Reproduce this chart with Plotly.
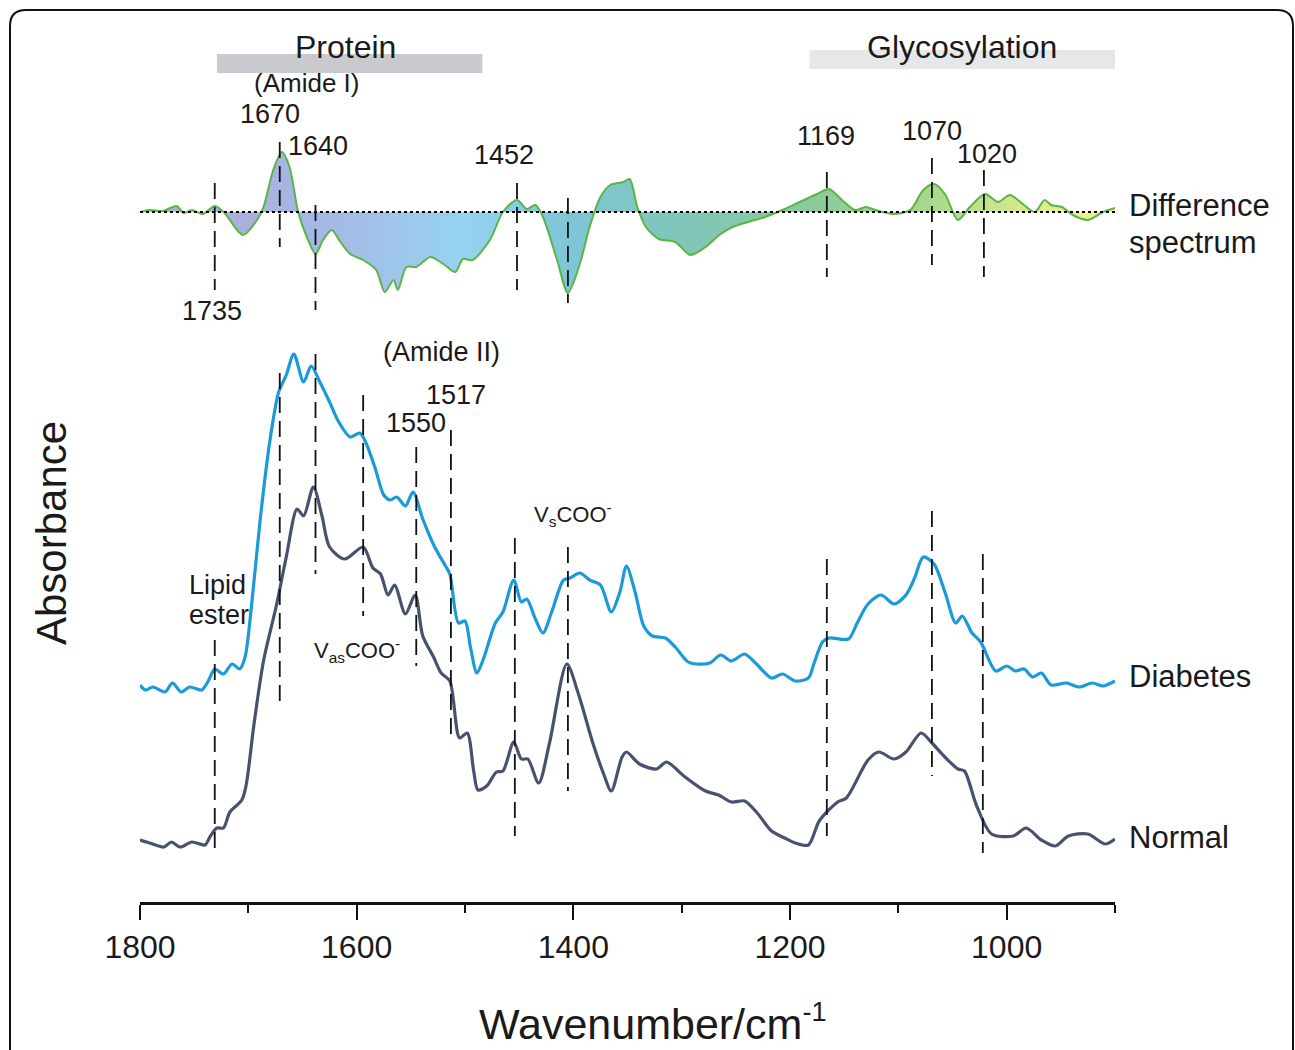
import plotly.graph_objects as go

# ---------------- data ----------------
# Difference spectrum (relative to its own zero line)
diff_wn = [1800, 1791, 1779, 1766, 1760, 1752, 1742, 1731, 1722, 1705, 1692, 1686, 1677, 1669, 1662,
           1654, 1646, 1638, 1631, 1623, 1615, 1606, 1594, 1582, 1574, 1566, 1562, 1554, 1545, 1532,
           1520, 1509, 1502, 1493, 1477, 1465, 1452, 1443, 1435, 1428, 1415, 1405, 1394, 1385, 1375,
           1366, 1354, 1348, 1341, 1333, 1321, 1306, 1292, 1278, 1264, 1253, 1239, 1223, 1207, 1191,
           1175, 1164, 1152, 1140, 1130, 1121, 1105, 1089, 1077, 1067, 1057, 1045, 1034, 1020, 1008,
           997, 984, 974, 965, 959, 949, 939, 925, 911, 900]
diff_val = [0.00, 0.02, 0.01, 0.06, -0.01, 0.02, -0.02, 0.06, -0.01, -0.23, -0.08, 0.05, 0.42, 0.60, 0.45,
            0.00, -0.25, -0.42, -0.28, -0.18, -0.30, -0.42, -0.48, -0.58, -0.80, -0.68, -0.78, -0.55, -0.55, -0.45,
            -0.52, -0.60, -0.47, -0.48, -0.28, 0.00, 0.12, 0.03, 0.07, -0.05, -0.48, -0.81, -0.52, -0.15, 0.15,
            0.27, 0.30, 0.33, 0.05, -0.15, -0.27, -0.30, -0.43, -0.35, -0.22, -0.15, -0.10, -0.05, 0.02, 0.10,
            0.18, 0.23, 0.12, 0.02, 0.05, 0.02, -0.02, 0.02, 0.22, 0.28, 0.18, -0.08, 0.05, 0.18, 0.10,
            0.17, 0.07, 0.00, 0.12, 0.07, 0.05, -0.03, -0.08, 0.00, 0.04]
diff_offset = 6.90

# Diabetes spectrum (offset absorbance)
diab_wn = [1800, 1795, 1788, 1777, 1770, 1762, 1754, 1743, 1737, 1731, 1723, 1715, 1708, 1703, 1697,
           1689, 1680, 1672, 1665, 1658, 1649, 1642, 1634, 1625, 1617, 1606, 1597, 1591, 1583, 1575,
           1569, 1563, 1555, 1548, 1539, 1528, 1518, 1514, 1506, 1500, 1495, 1489, 1483, 1472, 1465,
           1455, 1448, 1443, 1435, 1428, 1420, 1409, 1403, 1394, 1385, 1375, 1365, 1357, 1351, 1343,
           1335, 1327, 1315, 1306, 1294, 1286, 1274, 1264, 1254, 1242, 1231, 1217, 1207, 1195, 1183,
           1178, 1170, 1164, 1146, 1138, 1128, 1116, 1104, 1093, 1085, 1077, 1067, 1057, 1047, 1041,
           1032, 1024, 1010, 1000, 992, 984, 976, 968, 959, 945, 933, 921, 911, 900]
diab_val = [2.17, 2.12, 2.15, 2.10, 2.19, 2.10, 2.15, 2.12, 2.21, 2.33, 2.28, 2.38, 2.33, 2.45, 2.97,
            3.83, 4.62, 5.10, 5.27, 5.48, 5.20, 5.36, 5.20, 5.00, 4.81, 4.65, 4.69, 4.58, 4.34, 4.07,
            4.02, 4.05, 3.96, 4.10, 3.83, 3.55, 3.36, 3.28, 2.79, 2.81, 2.55, 2.29, 2.43, 2.79, 2.90,
            3.22, 3.00, 3.03, 2.83, 2.69, 2.90, 3.22, 3.24, 3.29, 3.22, 3.17, 2.90, 3.10, 3.36, 3.10,
            2.76, 2.66, 2.64, 2.55, 2.40, 2.38, 2.39, 2.47, 2.41, 2.48, 2.38, 2.24, 2.28, 2.21, 2.24,
            2.38, 2.60, 2.64, 2.63, 2.79, 2.98, 3.07, 2.98, 3.07, 3.24, 3.45, 3.38, 3.10, 2.79, 2.86,
            2.69, 2.60, 2.31, 2.36, 2.31, 2.33, 2.25, 2.29, 2.17, 2.19, 2.15, 2.19, 2.16, 2.21]

# Normal spectrum (offset absorbance)
norm_wn = [1800, 1791, 1778, 1771, 1763, 1752, 1740, 1735, 1729, 1723, 1717, 1706, 1702, 1695, 1686,
           1674, 1665, 1655, 1649, 1640, 1632, 1625, 1611, 1594, 1585, 1578, 1571, 1565, 1555, 1546,
           1539, 1529, 1522, 1514, 1505, 1498, 1492, 1488, 1480, 1471, 1465, 1455, 1448, 1442, 1432,
           1422, 1406, 1395, 1382, 1372, 1365, 1355, 1351, 1339, 1323, 1314, 1298, 1278, 1266, 1254,
           1242, 1231, 1217, 1205, 1195, 1183, 1173, 1156, 1148, 1128, 1118, 1104, 1093, 1079, 1069,
           1057, 1045, 1039, 1028, 1014, 994, 982, 968, 955, 943, 925, 909, 900]
norm_val = [0.62, 0.59, 0.55, 0.60, 0.55, 0.60, 0.57, 0.66, 0.74, 0.74, 0.90, 1.02, 1.17, 1.76, 2.41,
            2.97, 3.45, 3.93, 3.86, 4.15, 3.86, 3.55, 3.43, 3.55, 3.34, 3.28, 3.07, 3.17, 2.88, 3.07,
            2.66, 2.45, 2.29, 2.21, 1.64, 1.69, 1.31, 1.12, 1.16, 1.30, 1.31, 1.60, 1.43, 1.43, 1.19,
            1.59, 2.38, 2.07, 1.59, 1.28, 1.11, 1.45, 1.50, 1.38, 1.33, 1.40, 1.26, 1.11, 1.07, 1.00,
            1.01, 0.90, 0.71, 0.64, 0.59, 0.57, 0.81, 1.00, 1.04, 1.42, 1.50, 1.43, 1.50, 1.69, 1.59,
            1.45, 1.33, 1.31, 0.97, 0.68, 0.66, 0.74, 0.62, 0.56, 0.66, 0.68, 0.58, 0.63]

# Band markers on the difference spectrum: position, top, bottom
diff_mark_wn = [1731, 1671, 1638, 1452, 1405, 1166, 1069, 1021]
diff_mark_top = [7.19, 7.60, 6.97, 7.19, 7.04, 7.30, 7.44, 7.32]
diff_mark_bot = [6.12, 6.55, 5.92, 6.12, 5.99, 6.25, 6.37, 6.25]

# Band markers on the absorbance spectra
abs_mark_wn = [1731, 1671, 1638, 1594, 1545, 1513, 1454, 1405, 1166, 1069, 1022]
abs_mark_top = [2.62, 5.29, 5.48, 5.07, 4.55, 4.72, 3.64, 3.55, 3.43, 3.91, 3.48]
abs_mark_bot = [0.47, 1.93, 3.28, 2.86, 2.36, 1.66, 0.66, 1.11, 0.66, 1.26, 0.49]

# Region bars: (start, end, bottom, top)
region_start = [1729, 1182]
region_end = [1484, 900]
region_bot = [8.29, 8.33]
region_top = [8.48, 8.52]
region_colors = ["#c9cacd", "#e6e7e9"]

# In-plot text labels: (text, wavenumber, value, size, anchor)
labels = [
    ("Protein", 1610, 8.55, 32, "center"),
    ("Glycosylation", 1041, 8.55, 32, "center"),
    ("(Amide I)", 1646, 8.19, 26, "center"),
    ("1670", 1680, 7.88, 27, "center"),
    ("1640", 1636, 7.56, 27, "center"),
    ("1452", 1464, 7.47, 27, "center"),
    ("1735", 1734, 5.91, 27, "center"),
    ("1169", 1167, 7.66, 27, "center"),
    ("1070", 1069, 7.71, 27, "center"),
    ("1020", 1018, 7.48, 27, "center"),
    ("(Amide II)", 1522, 5.50, 27, "center"),
    ("1517", 1508, 5.07, 27, "center"),
    ("1550", 1545, 4.79, 27, "center"),
    ("Lipid", 1757, 3.17, 27, "left"),
    ("ester", 1757, 2.87, 27, "left"),
    ("V<sub>as</sub>COO<sup>-</sup>", 1600, 2.52, 22, "center"),
    ("V<sub>s</sub>COO<sup>-</sup>", 1400, 3.88, 22, "center"),
]

# Series names to the right of the plot: (text, value)
side_labels = [
    ("Difference", 6.97),
    ("spectrum", 6.60),
    ("Diabetes", 2.26),
    ("Normal", 0.65),
]

diff_colorscale = [
    [0.00, "#f2f294"], [0.06, "#e4ee8e"], [0.19, "#a9d88c"], [0.30, "#8ccb99"],
    [0.44, "#80c6b8"], [0.56, "#7ec6d6"], [0.67, "#96d3f3"], [0.78, "#a3bde6"],
    [0.89, "#a9b0de"], [1.00, "#b0aadb"],
]

FONT = "Liberation Sans, Arial, sans-serif"
TXT = "#1a1a1a"

# ---------------- figure ----------------
fig = go.Figure()

# invisible baseline for the difference fill
fig.add_trace(go.Scatter(x=diff_wn, y=[diff_offset] * len(diff_wn), mode="lines",
                         line=dict(width=0, color="rgba(0,0,0,0)"), showlegend=False,
                         hoverinfo="skip"))
fig.add_trace(go.Scatter(x=diff_wn, y=[diff_offset + v for v in diff_val], mode="lines",
                         line=dict(color="#5ab446", width=2, shape="spline", smoothing=0.8),
                         fill="tonexty",
                         fillgradient=dict(type="horizontal", colorscale=diff_colorscale,
                                           start=min(diff_wn), stop=max(diff_wn)),
                         showlegend=False, name="Difference spectrum"))
# dotted zero line
fig.add_trace(go.Scatter(x=[max(diff_wn), min(diff_wn) - 3], y=[diff_offset, diff_offset], mode="lines",
                         line=dict(color="black", width=2, dash="dot"), showlegend=False,
                         hoverinfo="skip", cliponaxis=False))

# absorbance spectra
fig.add_trace(go.Scatter(x=diab_wn, y=diab_val, mode="lines", name="Diabetes",
                         line=dict(color="#1a9ad8", width=3.2, shape="spline", smoothing=0.8),
                         showlegend=False))
fig.add_trace(go.Scatter(x=norm_wn, y=norm_val, mode="lines", name="Normal",
                         line=dict(color="#48526f", width=3.2, shape="spline", smoothing=0.8),
                         showlegend=False))


def seg(wns, tops, bots):
    xs, ys = [], []
    for w, t, b in zip(wns, tops, bots):
        xs += [w, w, None]
        ys += [t, b, None]
    return xs, ys


for wns, tops, bots in [(diff_mark_wn, diff_mark_top, diff_mark_bot),
                        (abs_mark_wn, abs_mark_top, abs_mark_bot)]:
    xs, ys = seg(wns, tops, bots)
    fig.add_trace(go.Scatter(x=xs, y=ys, mode="lines",
                             line=dict(color="#111111", width=1.8, dash="16px,8px"),
                             showlegend=False, hoverinfo="skip"))

# region bars
for s, e, b, t, c in zip(region_start, region_end, region_bot, region_top, region_colors):
    fig.add_shape(type="rect", xref="x", yref="y", x0=s, x1=e, y0=b, y1=t,
                  fillcolor=c, line=dict(width=0), layer="below")

for text, w, v, size, anchor in labels:
    fig.add_annotation(x=w, y=v, xref="x", yref="y", text=text, showarrow=False,
                       xanchor=anchor, yanchor="middle",
                       font=dict(family=FONT, size=size, color=TXT))

# layout geometry (pixels)
L, R, T, B = 140, 180, 0, 148
W, H = 1295, 1050
PW, PH = W - L - R, H - T - B


def px(xp):
    return (xp - L) / PW


def py(yp):
    return (H - B - yp) / PH


YMAX = PH / 100
for text, v in side_labels:
    fig.add_annotation(x=px(1127), y=v / YMAX, xref="paper", yref="paper", text=text,
                       showarrow=False, xanchor="left", yanchor="middle",
                       font=dict(family=FONT, size=31, color=TXT))

fig.add_annotation(x=px(652), y=py(1022), xref="paper", yref="paper",
                   text="Wavenumber/cm<sup><span style='font-size:27px'>-1</span></sup>",
                   showarrow=False, xanchor="center", yanchor="middle",
                   font=dict(family=FONT, size=43, color=TXT))
fig.add_annotation(x=px(52), y=py(533), xref="paper", yref="paper",
                   text="Absorbance", textangle=-90, showarrow=False,
                   xanchor="center", yanchor="middle",
                   font=dict(family=FONT, size=42, color=TXT))

# rounded frame
r = 16
x0, x1, y0, y1 = 10, 1293, 10, 1070
path = (f"M {px(x0)},{py(y1)} L {px(x0)},{py(y0 + r)} Q {px(x0)},{py(y0)} {px(x0 + r)},{py(y0)} "
        f"L {px(x1 - r)},{py(y0)} Q {px(x1)},{py(y0)} {px(x1)},{py(y0 + r)} L {px(x1)},{py(y1)}")
fig.add_shape(type="path", xref="paper", yref="paper", path=path,
              line=dict(color="#111111", width=2))

fig.update_layout(
    width=W, height=H,
    margin=dict(l=L, r=R, t=T, b=B),
    paper_bgcolor="white", plot_bgcolor="white",
    showlegend=False,
    xaxis=dict(range=[1800, 900], showgrid=False, zeroline=False,
               showline=True, linecolor="#111111", linewidth=3,
               ticks="outside", ticklen=15, tickwidth=2, tickcolor="#111111",
               tick0=1000, dtick=200,
               minor=dict(dtick=100, ticks="outside", ticklen=8, tickwidth=2, tickcolor="#111111"),
               tickfont=dict(family=FONT, size=32, color=TXT)),
    yaxis=dict(range=[0, YMAX], visible=False, showgrid=False, zeroline=False),
)

fig.write_html("out.html")
